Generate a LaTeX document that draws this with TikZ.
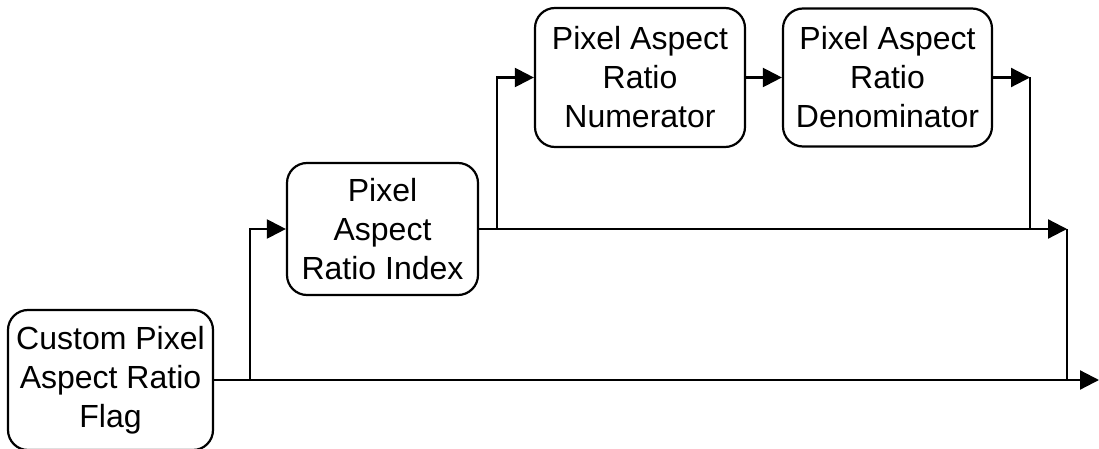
\documentclass[tikz,border=0pt]{standalone}
\usepackage{fontspec}
\setmainfont{Liberation Sans}
\usetikzlibrary{arrows.meta}
\begin{document}
\begin{tikzpicture}[x=1pt,y=-1pt,
  blk/.style={draw,line width=2.2pt,rounded corners=20pt,align=center,inner sep=0pt,
    font=\fontsize{32}{39}\selectfont},
  ln/.style={line width=2.2pt},
  arr/.style={line width=2.2pt,-{Triangle[length=19pt,width=19pt]}}]
\useasboundingbox (0,0) rectangle (1099,449);
\node[blk,minimum width=205pt,minimum height=140pt] (flag) at (110.5,380) {Custom Pixel\\Aspect Ratio\\Flag};
\node[blk,minimum width=191pt,minimum height=132pt] (index) at (382.5,229) {Pixel\\Aspect\\Ratio Index};
\node[blk,minimum width=210pt,minimum height=139pt] (num) at (640,77.5) {Pixel Aspect\\Ratio\\Numerator};
\node[blk,minimum width=209pt,minimum height=138pt] (den) at (887.5,77.5) {Pixel Aspect\\Ratio\\Denominator};
\coordinate (a1) at (250,380);
\coordinate (a2) at (497,229);
\coordinate (m1) at (1030,77.5);
\coordinate (m2) at (1067,229);
\coordinate (end) at (1099,380);
\draw[arr] (flag.east) -- (end);
\draw[arr] (a1) |- (index.west);
\draw[arr] (index.east) -- (m2);
\draw[arr] (a2) |- (num.west);
\draw[arr] (num.east) -- (den.west);
\draw[arr] (den.east) -- (m1);
\draw[ln] (m1) -- (m1 |- m2);
\draw[ln] (m2) -- (m2 |- end);
\end{tikzpicture}
\end{document}
